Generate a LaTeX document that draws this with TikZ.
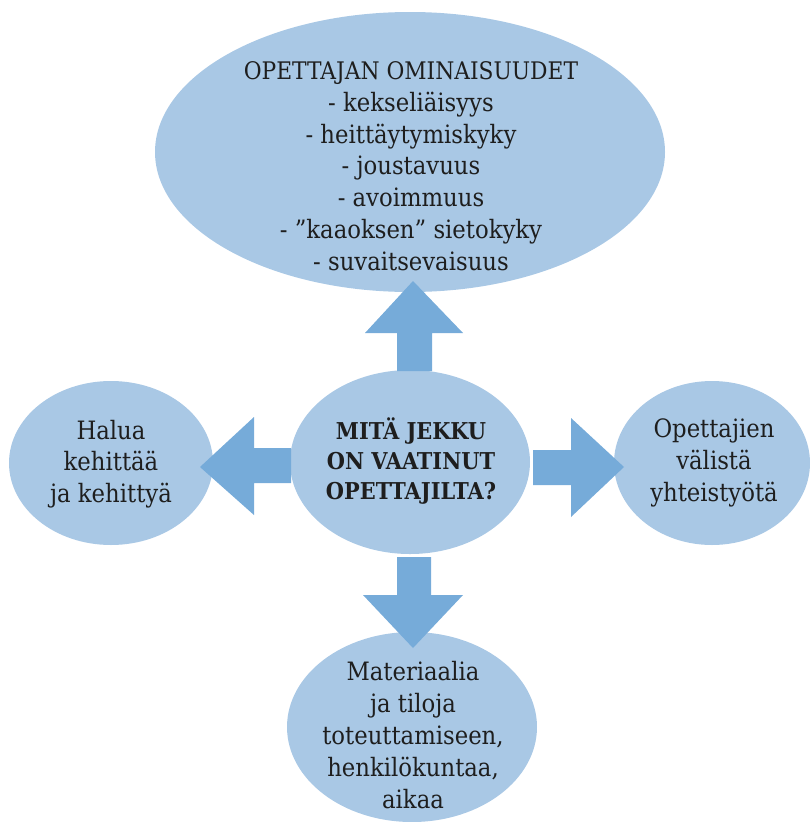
\documentclass[tikz,border=0pt]{standalone}
\usepackage{fontspec}
\setmainfont{DejaVu Serif Condensed}
\usetikzlibrary{shapes.geometric}
\definecolor{blobc}{RGB}{169,200,229}
\definecolor{arrc}{RGB}{118,171,217}
\definecolor{txtc}{RGB}{30,30,30}
\begin{document}
\begin{tikzpicture}[x=1pt,y=-1pt,
  blob/.style={ellipse, fill=blobc, inner sep=0pt, draw=none},
  txt/.style={align=center, font=\fontsize{25.3}{31.8}\selectfont, text=txtc, inner sep=0pt},
  bigarrow/.style={fill=arrc}]
\useasboundingbox (0,0) rectangle (810,822);
% ellipses
\node[blob, minimum width=510pt, minimum height=280pt] (top) at (410,152) {};
\node[blob, minimum width=240pt, minimum height=184pt] (mid) at (410,462) {};
\node[blob, minimum width=204pt, minimum height=164pt] (left) at (111,463) {};
\node[blob, minimum width=196pt, minimum height=164pt] (right) at (712,463) {};
\node[blob, minimum width=250pt, minimum height=190pt] (bottom) at (412,727) {};
% block arrows
\fill[bigarrow] (397,371) -- (397,333) -- (365,333) -- (413,281) -- (463,333) -- (432,333) -- (432,371) -- cycle;
\fill[bigarrow] (291,448) -- (254,448) -- (254,417) -- (200,467) -- (254,515) -- (254,483) -- (291,483) -- cycle;
\fill[bigarrow] (533,450) -- (571,450) -- (571,418) -- (624,467) -- (571,517) -- (571,485) -- (533,485) -- cycle;
\fill[bigarrow] (397,557) -- (397,595) -- (363,595) -- (413,648) -- (463,595) -- (431,595) -- (431,557) -- cycle;
% texts
\node[txt] (toptext) at (411,166) {{\fontsize{24.2}{31.8}\selectfont OPETTAJAN OMINAISUUDET}\\- kekseliäisyys\\- heittäytymiskyky\\- joustavuus\\- avoimmuus\\- ”kaaoksen” sietokyky\\- suvaitsevaisuus};
\node[txt, font=\fontsize{23.2}{30}\selectfont\bfseries] (midtext) at (411,461) {MITÄ JEKKU\\ON VAATINUT\\OPETTAJILTA?};
\node[txt] (lefttext) at (111,464) {Halua\\kehittää\\ja kehittyä};
\node[txt] (righttext) at (714,463) {Opettajien\\välistä\\yhteistyötä};
\node[txt] (bottomtext) at (413,735) {Materiaalia\\ja tiloja\\toteuttamiseen,\\henkilökuntaa,\\aikaa};
\end{tikzpicture}
\end{document}
